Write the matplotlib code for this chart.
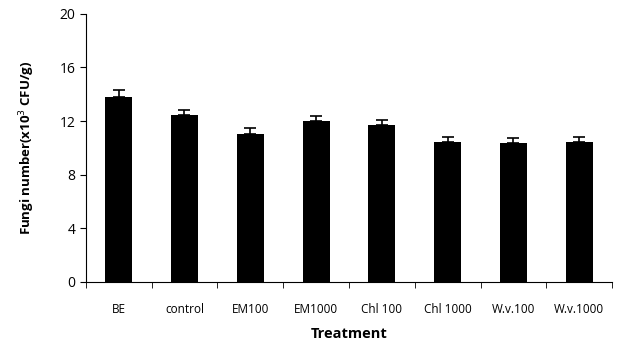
import numpy as np
import matplotlib.pyplot as plt

plt.rcParams['font.family'] = ['Open Sans', 'DejaVu Sans']

treatments = ["BE", "control", "EM100", "EM1000", "Chl 100", "Chl 1000", "W.v.100", "W.v.1000"]
means = [13.8, 12.45, 11.05, 12.0, 11.7, 10.45, 10.35, 10.45]
errors = [0.5, 0.35, 0.4, 0.4, 0.4, 0.38, 0.42, 0.38]

fig = plt.figure(figsize=(6.31, 3.46), dpi=100)
ax = fig.add_axes([0.136, 0.185, 0.834, 0.775])

x = np.arange(len(treatments))
ax.bar(x, means, width=0.41, color='black', zorder=2)
ax.errorbar(x, means, yerr=[np.zeros(len(errors)), errors], fmt='none',
            ecolor='black', elinewidth=1.2, capsize=4, capthick=1.2, zorder=3)

ax.set_xlim(-0.5, len(treatments) - 0.5)
ax.set_ylim(0, 20)
ax.set_yticks([0, 4, 8, 12, 16, 20])
ax.set_xticks(x)
ax.set_xticklabels(treatments, fontsize=8.5)
ax.set_xticks(np.arange(-0.5, len(treatments)), minor=True)
ax.tick_params(axis='x', which='major', length=0, pad=15)
ax.tick_params(axis='x', which='minor', length=4, direction='out')
ax.tick_params(axis='y', labelsize=10, length=4, direction='out')

for s in ['top', 'right']:
    ax.spines[s].set_visible(False)

ax.set_xlabel("Treatment", fontsize=10.5, fontweight='bold', labelpad=8)
ax.set_ylabel("Fungi number(x10$^3$ CFU/g)", fontsize=9.5, fontweight='bold', labelpad=16)

fig.savefig("out.png", dpi=100)
